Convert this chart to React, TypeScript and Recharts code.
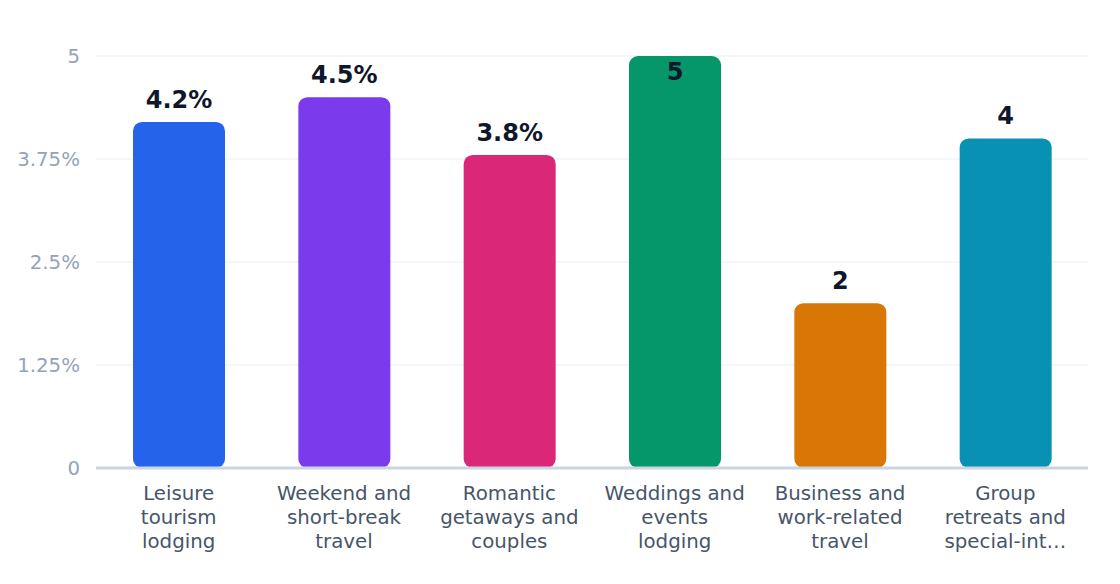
import React from "react";
import { BarChart, Bar, XAxis, YAxis, CartesianGrid, Cell, LabelList } from "recharts";

const categories = [
  "Leisure tourism lodging",
  "Weekend and short-break travel",
  "Romantic getaways and couples",
  "Weddings and events lodging",
  "Business and work-related travel",
  "Group retreats and special-interest stays",
];
const values = [4.2, 4.5, 3.8, 5, 2, 4];
const colors = ["#2563eb", "#7c3aed", "#db2777", "#059669", "#d97706", "#0891b2"];
const yTicks = [0, 1.25, 2.5, 3.75, 5];

const data = categories.map((name, i) => ({ name, value: values[i] }));

const FONT = "'DejaVu Sans', sans-serif";

const fmt = (v: number) => (Number.isInteger(v) ? String(v) : `${v}%`);

function wrapLabel(text: string, maxChars = 12, maxLines = 3): string[] {
  const words = text.split(" ");
  const lines: string[] = [];
  let cur = "";
  for (const w0 of words) {
    const w = w0.length > maxChars ? w0.slice(0, maxChars - 1) + "…" : w0;
    if (!cur) cur = w;
    else if ((cur + " " + w).length <= maxChars) cur = cur + " " + w;
    else {
      lines.push(cur);
      cur = w;
    }
  }
  if (cur) lines.push(cur);
  if (lines.length > maxLines) {
    const out = lines.slice(0, maxLines);
    const last = out[maxLines - 1];
    if (!last.endsWith("…")) out[maxLines - 1] = last.slice(0, maxChars - 1) + "…";
    return out;
  }
  return lines;
}

const XTick = (props: any) => {
  const { x, y, payload } = props;
  const lines = wrapLabel(String(payload.value));
  return (
    <g transform={`translate(${x},${y})`}>
      <text textAnchor="middle" fill="#475569" fontSize={19.8} fontFamily={FONT}>
        {lines.map((l, i) => (
          <tspan key={i} x={0} y={24 + i * 24}>
            {l}
          </tspan>
        ))}
      </text>
    </g>
  );
};

const ValueLabel = (props: any) => {
  const { x, y, width, value } = props;
  const cx = x + width / 2;
  const inside = y < 80;
  return (
    <text
      x={cx}
      y={inside ? y + 24 : y - 14}
      textAnchor="middle"
      fill="#0f172a"
      fontSize={24}
      fontWeight="bold"
      fontFamily={FONT}
    >
      {fmt(value)}
    </text>
  );
};

export default function App() {
  return (
    <div style={{ width: 1120, height: 584, background: "#ffffff" }}>
      <style>{"body{margin:0;}"}</style>
      <BarChart
        width={1120}
        height={584}
        data={data}
        margin={{ top: 56, right: 32, bottom: 26, left: 0 }}
      >
        <CartesianGrid vertical={false} stroke="#f1f5f9" strokeWidth={1.5} />
        <XAxis
          dataKey="name"
          interval={0}
          height={90}
          tickLine={false}
          axisLine={{ stroke: "#cbd5e1", strokeWidth: 3 }}
          tick={<XTick />}
        />
        <YAxis
          width={96}
          domain={[0, 5]}
          ticks={yTicks}
          tickFormatter={fmt}
          axisLine={false}
          tickLine={false}
          tickMargin={10}
          tick={{ fill: "#94a3b8", fontSize: 19.8, fontFamily: FONT }}
        />
        <Bar dataKey="value" barSize={92} radius={[9, 9, 9, 9]} isAnimationActive={false}>
          {data.map((d, i) => (
            <Cell key={d.name} fill={colors[i]} />
          ))}
          <LabelList dataKey="value" content={<ValueLabel />} />
        </Bar>
      </BarChart>
    </div>
  );
}
